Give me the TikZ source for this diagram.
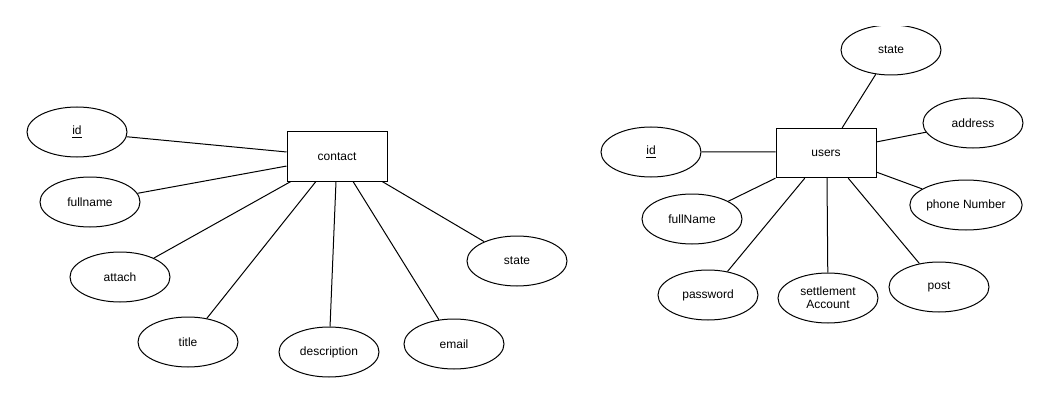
\documentclass[tikz,border=0pt]{standalone}
\usepackage{fontspec}
\setmainfont{Liberation Sans}
\usetikzlibrary{shapes.geometric,calc}
\begin{document}
\begin{tikzpicture}[x=0.75pt,y=-0.75pt,
  attr/.style={ellipse,draw,line width=0.75pt,minimum width=75pt,minimum height=37.5pt,
    inner sep=0pt,align=center,font=\fontsize{9}{10.5}\selectfont},
  entity/.style={rectangle,draw,line width=0.75pt,minimum width=75pt,minimum height=37pt,
    inner sep=0pt,font=\fontsize{9}{10.5}\selectfont},
  link/.style={line width=0.75pt}]
\useasboundingbox (0,0) rectangle (1050,403);

% ---------- contact entity ----------
\node[entity] (contact) at (337,156.5) {contact};
\node[attr] (cid)    at (77,132)  {\underline{id}};
\node[attr] (cfull)  at (90,202)  {fullname};
\node[attr] (catt)   at (120,277) {attach};
\node[attr] (ctitle) at (188,342) {title};
\node[attr] (cdesc)  at (329,352) {description};
\node[attr] (cmail)  at (454,344) {email};
\node[attr] (cstate) at (517,261) {state};

\draw[link] ($(contact.north west)!0.41!(contact.south west)$) -- (cid);
\draw[link] ($(contact.north west)!0.69!(contact.south west)$) -- (cfull);
\draw[link] ($(contact.south west)!0.04!(contact.south east)$) -- (catt);
\draw[link] ($(contact.south west)!0.29!(contact.south east)$) -- (ctitle);
\draw[link] ($(contact.south west)!0.49!(contact.south east)$) -- (cdesc);
\draw[link] ($(contact.south west)!0.66!(contact.south east)$) -- (cmail);
\draw[link] ($(contact.south west)!0.95!(contact.south east)$) -- (cstate);

% ---------- users entity ----------
\node[entity] (users) at (826,153) {users};
\begin{scope}
  \clip (800,26.5) rectangle (1000,100);
  \node[attr] (ustate) at (891,50) {state};
\end{scope}
\node[attr] (uaddr)  at (973,123) {address};
\node[attr] (uid)    at (651,152) {\underline{id}};
\node[attr] (uphone) at (966,205) {phone Number};
\node[attr] (ufull)  at (692,219) {fullName};
\node[attr] (upass)  at (708,295) {password};
\node[attr] (usett)  at (828,298) {settlement\\[-1pt]Account};
\node[attr] (upost)  at (939,287) {post};

\draw[link] ($(users.north west)!0.66!(users.north east)$) -- (ustate);
\draw[link] ($(users.north east)!0.28!(users.south east)$) -- (uaddr);
\draw[link] ($(users.north west)!0.48!(users.south west)$) -- (uid);
\draw[link] ($(users.north east)!0.88!(users.south east)$) -- (uphone);
\draw[link] (users.south west) -- (ufull);
\draw[link] ($(users.south west)!0.29!(users.south east)$) -- (upass);
\draw[link] ($(users.south west)!0.51!(users.south east)$) -- (usett);
\draw[link] ($(users.south west)!0.72!(users.south east)$) -- (upost);
\end{tikzpicture}
\end{document}
